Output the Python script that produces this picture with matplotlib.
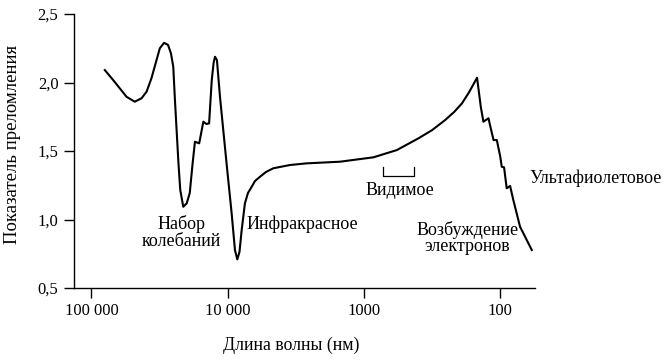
import matplotlib
matplotlib.use('Agg')
import matplotlib.pyplot as plt
import numpy as np

plt.rcParams['font.family'] = ['Liberation Serif', 'DejaVu Serif']

# Curve: wavelength (nm) and refractive index
wavelength = [79800, 69300, 61900, 55300, 48100, 42900, 39400, 36300, 33300,
              31500, 29300, 27400, 26100, 25100, 24400, 23000, 22300, 21200,
              20000, 19000, 18100, 17400, 16200, 15100, 14300, 13700, 13100,
              12700, 12400, 12000, 11400, 10200, 9360, 8850, 8510, 8200, 7900,
              7480, 7110, 6670, 6310, 5800, 5240, 4630, 3490, 2630, 1500, 853,
              574, 398, 316, 254, 218, 191, 169, 148,
              139, 133, 122, 119, 112, 106, 100, 97.5, 93.8, 89.7, 84.7, 80.2,
              71.6, 58.7]
index = [2.091, 2.018, 1.957, 1.896, 1.860, 1.885, 1.933, 2.031, 2.164,
         2.250, 2.290, 2.274, 2.213, 2.115, 1.872, 1.412, 1.215, 1.093,
         1.118, 1.193, 1.410, 1.568, 1.556, 1.714, 1.697, 1.702, 2.018,
         2.142, 2.188, 2.164, 1.896, 1.410, 1.045, 0.777, 0.709, 0.763, 0.923,
         1.118, 1.193, 1.239, 1.281, 1.312, 1.347, 1.374, 1.398, 1.410, 1.422, 1.454,
         1.507, 1.593, 1.653, 1.726, 1.785, 1.848, 1.931, 2.035,
         1.823, 1.714, 1.739, 1.690, 1.580, 1.580, 1.458, 1.385, 1.381, 1.228, 1.245,
         1.142, 0.947, 0.777]

visible_range = [720, 430]
x_ticks = [100000, 10000, 1000, 100]
x_ticklabels = ['100 000', '10 000', '1000', '100']
y_ticks = [0.5, 1.0, 1.5, 2.0, 2.5]
y_ticklabels = ['0,5', '1,0', '1,5', '2,0', '2,5']

fig = plt.figure(figsize=(6.7, 3.6), dpi=100)
ax = fig.add_axes([0.110, 0.2, 0.689, 0.761])

ax.plot(wavelength, index, color='black', lw=1.5, solid_joinstyle='round')

# bracket for the visible range
ax.plot([visible_range[0], visible_range[0], visible_range[1], visible_range[1]],
        [1.381, 1.318, 1.318, 1.381], color='black', lw=0.9)

ax.set_xscale('log')
ax.set_xlim(135000, 55.3)
ax.set_ylim(0.5, 2.5)
ax.set_xticks(x_ticks)
ax.set_xticklabels(x_ticklabels)
ax.xaxis.set_minor_locator(matplotlib.ticker.NullLocator())
ax.set_yticks(y_ticks)
ax.set_yticklabels(y_ticklabels)

for s in ['top', 'right']:
    ax.spines[s].set_visible(False)
for s in ['left', 'bottom']:
    ax.spines[s].set_linewidth(1.0)
ax.tick_params(axis='both', length=7, width=1.0, labelsize=12, pad=4)

fs = 13
ax.text(21800, 0.905, 'Набор\nколебаний', ha='center', va='center',
        fontsize=fs, linespacing=0.95)
ax.text(7230, 0.967, 'Инфракрасное', ha='left', va='center', fontsize=fs)
ax.text(545, 1.215, 'Видимое', ha='center', va='center', fontsize=fs)
ax.text(175, 0.865, 'Возбуждение\nэлектронов', ha='center', va='center',
        fontsize=fs, linespacing=0.95)
ax.text(61.5, 1.303, 'Ультафиолетовое', ha='left', va='center', fontsize=fs)

fig.text(0.434, 0.042, 'Длина волны (нм)', ha='center', va='center', fontsize=12.8)
fig.text(0.018, 0.6, 'Показатель преломления', ha='center', va='center',
         rotation=90, fontsize=13.5)

fig.savefig('out.png', dpi=100)
